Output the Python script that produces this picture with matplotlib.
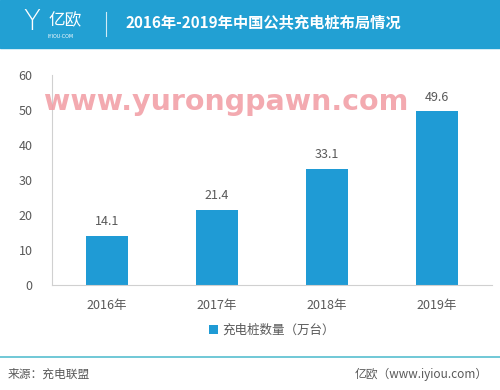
import matplotlib.pyplot as plt
from matplotlib.patches import Rectangle
from matplotlib.lines import Line2D

plt.rcParams['font.family'] = ['Noto Sans CJK SC', 'DejaVu Sans']

years = ["2016年", "2017年", "2018年", "2019年"]
piles = [14.1, 21.4, 33.1, 49.6]
yticks = [0, 10, 20, 30, 40, 50, 60]
series_name = "充电桩数量（万台）"
title = "2016年-2019年中国公共充电桩布局情况"
source = "来源：充电联盟"
brand = "亿欧（www.iyiou.com）"

blue = "#1F9BD5"
grey = "#595959"

fig = plt.figure(figsize=(5, 3.9), dpi=100)
W, H = 500, 390

# header band
fig.patches.append(Rectangle((0, 1 - 48 / H), 1, 48 / H, transform=fig.transFigure,
                             color="#22A0D3", zorder=0))
fig.text(32 / W, 1 - 22 / H, "Y", color="white", fontsize=20, ha="center", va="center",
         family="DejaVu Sans", fontweight="light")
fig.text(48 / W, 1 - 21 / H, "亿欧", color="white", fontsize=12, ha="left", va="center")
fig.text(48 / W, 1 - 36 / H, "IYIOU·COM", color="white", fontsize=3.5, ha="left", va="center",
         family="DejaVu Sans")
fig.lines.append(Line2D([106 / W, 106 / W], [1 - 12 / H, 1 - 36 / H], transform=fig.transFigure,
                        color="white", lw=0.8, alpha=0.8))
fig.text(125 / W, 1 - 23 / H, title, color="white", fontsize=11, fontweight="bold",
         ha="left", va="center")

# plot area
ax = fig.add_axes([52 / W, 1 - 285 / H, 440 / W, 210 / H])
x = range(len(years))
bars = ax.bar(x, piles, width=0.39, color=blue, label=series_name, zorder=2)
for xi, v in zip(x, piles):
    ax.text(xi, v + 2.2, f"{v}", ha="center", va="bottom", fontsize=9, color=grey)

ax.set_xlim(-0.5, 3.5)
ax.set_ylim(0, 60)
ax.set_yticks(yticks)
ax.set_xticks(list(x))
ax.set_xticklabels(years)
ax.tick_params(axis="both", length=0, labelsize=9, colors=grey)
ax.tick_params(axis="y", pad=14)
ax.tick_params(axis="x", pad=10)
for s in ["top", "right"]:
    ax.spines[s].set_visible(False)
for s in ["left", "bottom"]:
    ax.spines[s].set_color("#D0D0D0")
    ax.spines[s].set_linewidth(0.8)

ax.legend(loc="upper center", bbox_to_anchor=(0.5, -0.13), frameon=False, fontsize=9,
          handlelength=0.7, handleheight=0.7, handletextpad=0.4, labelcolor=grey)

# watermark
fig.text(226 / W, 1 - 102 / H, "www.yurongpawn.com", color="#F19BA3", fontsize=20.5,
         fontweight="bold", ha="center", va="center", alpha=0.85, family="DejaVu Sans",
         zorder=5)

# footer
fig.lines.append(Line2D([0, 1], [1 - 357 / H, 1 - 357 / H], transform=fig.transFigure,
                        color="#58BFD0", lw=1.2))
fig.text(8 / W, 1 - 374 / H, source, color=grey, fontsize=8.5, ha="left", va="center")
fig.text(488 / W, 1 - 374 / H, brand, color=grey, fontsize=8.5, ha="right", va="center")

fig.savefig("out.png", dpi=100)
